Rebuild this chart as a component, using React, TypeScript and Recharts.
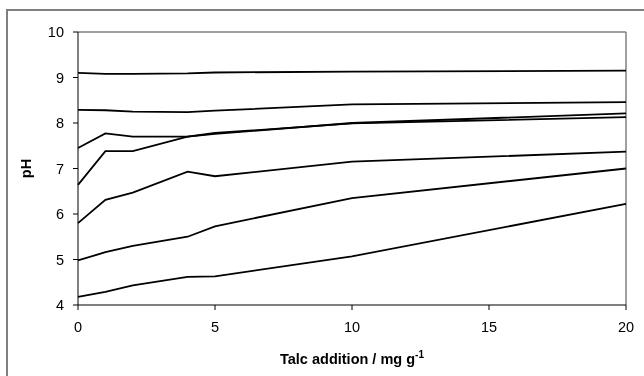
import React from 'react';
import {
  LineChart,
  Line,
  XAxis,
  YAxis,
  ReferenceLine,
  Label,
} from 'recharts';

// talc dose (mg/g) and measured pH for each soil
const talc = [0, 1, 2, 4, 5, 10, 20];
const soilA = [9.1, 9.08, 9.08, 9.09, 9.11, 9.13, 9.15];
const soilB = [8.29, 8.28, 8.25, 8.24, 8.27, 8.41, 8.46];
const soilC = [7.45, 7.77, 7.7, 7.7, 7.76, 8.0, 8.21];
const soilD = [6.64, 7.38, 7.38, 7.7, 7.78, 7.99, 8.13];
const soilE = [5.8, 6.31, 6.47, 6.93, 6.83, 7.15, 7.37];
const soilF = [4.98, 5.16, 5.3, 5.5, 5.73, 6.35, 7.0];
const soilG = [4.18, 4.29, 4.43, 4.62, 4.63, 5.07, 6.22];

const xTicks = [0, 5, 10, 15, 20];
const yTicks = [4, 5, 6, 7, 8, 9, 10];

const soils = [soilA, soilB, soilC, soilD, soilE, soilF, soilG];

const chartData = talc.map((t, i) => {
  const row: Record<string, number> = { talc: t };
  soils.forEach((s, k) => {
    row['s' + k] = s[i];
  });
  return row;
});

const font = "'Liberation Sans', Arial, sans-serif";
const tickSize = 14.5;

function XTick(props: any) {
  const { x, y, payload } = props;
  return (
    <text x={x} y={y} dy={tickSize * 0.75} textAnchor="middle" fontFamily={font} fontSize={tickSize} fill="#000">
      {payload.value}
    </text>
  );
}

function YTick(props: any) {
  const { x, y, payload } = props;
  return (
    <text x={x} y={y} dy={tickSize * 0.36} textAnchor="end" fontFamily={font} fontSize={tickSize} fill="#000">
      {payload.value}
    </text>
  );
}

function XTitle(props: any) {
  const vb = props.viewBox || {};
  const cx = vb.x + vb.width / 2;
  return (
    <text
      x={cx}
      y={vb.y + 59}
      textAnchor="middle"
      fontFamily={font}
      fontSize={14.5}
      fontWeight="bold"
      fill="#000"
    >
      Talc addition / mg g
      <tspan dy={-6} fontSize={10}>
        -1
      </tspan>
    </text>
  );
}

export default function App() {
  return (
    <>
      <div
        style={{
          position: 'fixed',
          left: 6,
          top: 9,
          width: 660,
          height: 400,
          border: '2px solid #808080',
          boxSizing: 'border-box',
        }}
      />
      <div style={{ position: 'fixed', left: 0, top: 0 }}>
        <LineChart
          width={644}
          height={376}
          data={chartData}
          margin={{ top: 32, right: 18, bottom: 0, left: 0 }}
          style={{ fontFamily: font }}
        >
          <XAxis
            dataKey="talc"
            type="number"
            domain={[0, 20]}
            ticks={xTicks}
            height={71}
            tickSize={5}
            tickMargin={11}
            stroke="#000"
            tick={<XTick />}
            label={<XTitle />}
          />
          <YAxis
            type="number"
            domain={[4, 10]}
            ticks={yTicks}
            width={78}
            tickSize={5}
            tickMargin={9}
            stroke="#000"
            tick={<YTick />}
          >
            <Label
              value="pH"
              angle={-90}
              position="insideLeft"
              offset={26}
              style={{ fontWeight: 'bold', fontSize: 14.5, fill: '#000', textAnchor: 'middle' }}
            />
          </YAxis>
          <ReferenceLine y={10} stroke="#808080" strokeWidth={1.5} />
          <ReferenceLine x={20} stroke="#808080" strokeWidth={1.5} />
          {soils.map((_, k) => (
            <Line
              key={k}
              dataKey={'s' + k}
              type="linear"
              stroke="#000"
              strokeWidth={1.8}
              dot={false}
              isAnimationActive={false}
            />
          ))}
        </LineChart>
      </div>
    </>
  );
}
